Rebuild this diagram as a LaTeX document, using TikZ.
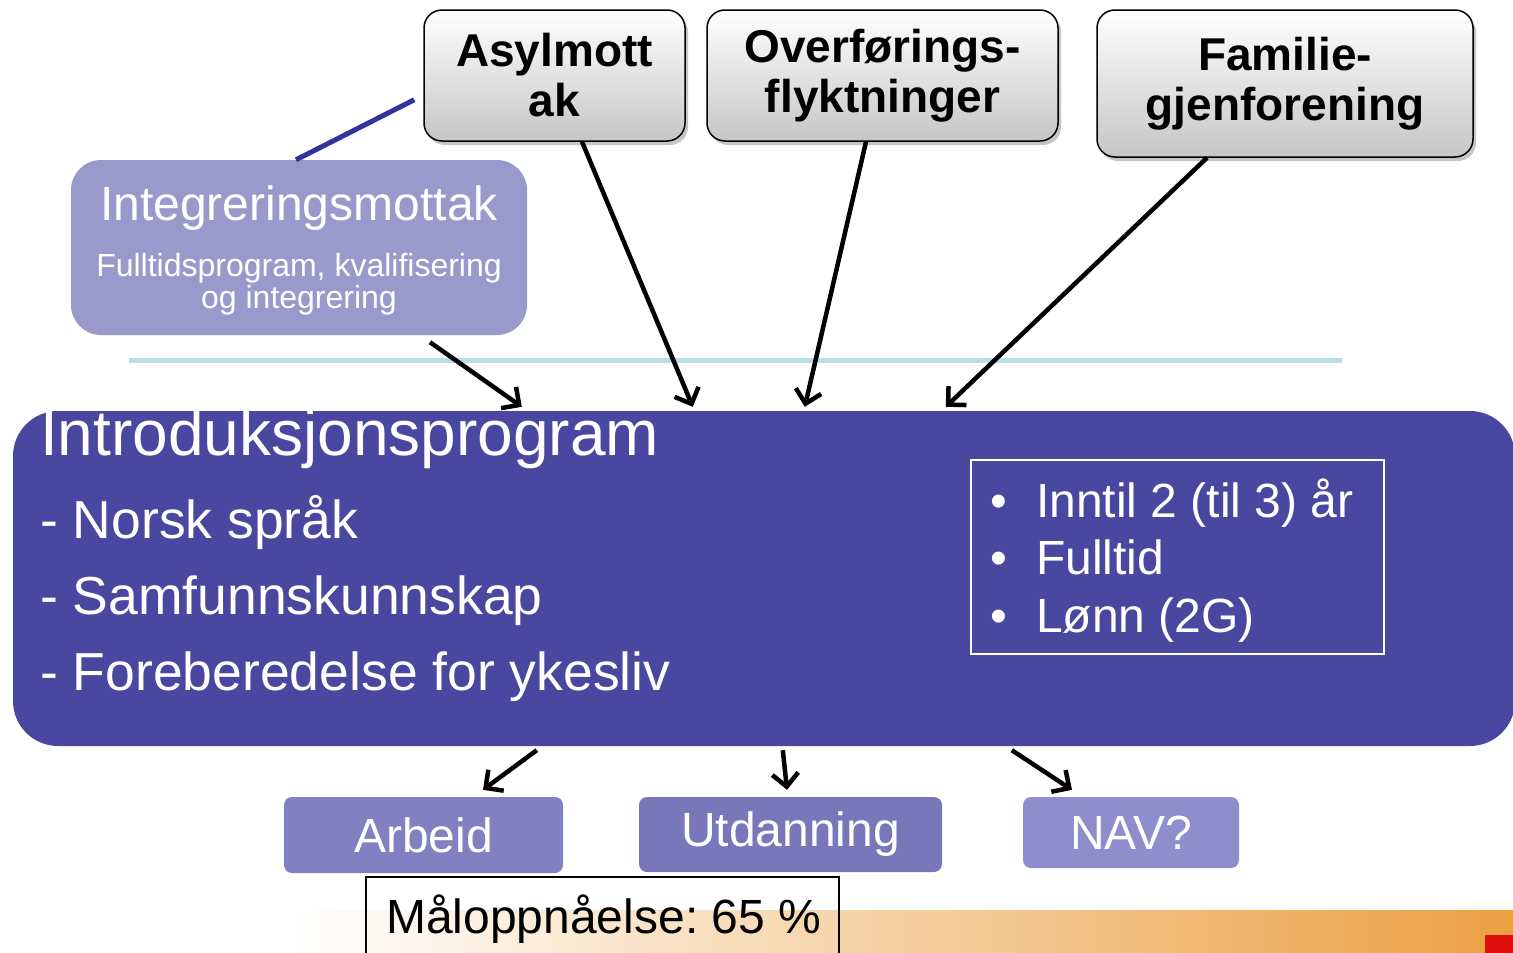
\documentclass[tikz,border=0pt]{standalone}
\usepackage{fontspec}
\setmainfont{Liberation Sans}
\usetikzlibrary{arrows.meta,shadows,calc}
\definecolor{introblue}{HTML}{4848A0}
\definecolor{integcol}{HTML}{9999CC}
\definecolor{arbcol}{HTML}{8181C1}
\definecolor{utdcol}{HTML}{7777BA}
\definecolor{navcol}{HTML}{8E8ECC}
\definecolor{cyanline}{HTML}{B7DEE1}
\definecolor{darkline}{HTML}{3333A0}
\definecolor{orangeband}{HTML}{EBA043}
\definecolor{redsq}{HTML}{E01010}
\frenchspacing
\begin{document}
\begin{tikzpicture}[x=1pt,y=-1pt,
  topbox/.style={draw=black, line width=1.5pt, rounded corners=18pt,
    top color=white, bottom color=gray!45,
    drop shadow={shadow xshift=3pt,shadow yshift=-4pt,opacity=0.45},
    font=\fontsize{46}{50}\selectfont\bfseries, align=center, inner sep=0pt},
  outbox/.style={rounded corners=8pt, inner sep=0pt, text=white,
    font=\fontsize{48}{50}\selectfont},
  whitetxt/.style={text=white, inner sep=0pt, anchor=base west},
  arr/.style={line width=4.5pt, -{Straight Barb[length=13pt,width=26pt]}},
]
\useasboundingbox (0,0) rectangle (1513,953);

% bottom orange band
\shade[left color=white, right color=orangeband] (290,910) rectangle (1513,953);
\fill[redsq] (1485,935) rectangle (1513,953);

% top source boxes
\node[topbox, minimum width=261pt, minimum height=131pt] (asyl) at (554.5,75.5) {Asylmott\\ak};
\node[topbox, minimum width=351pt, minimum height=131pt] (overf) at (882.5,75.5) {Overførings-\\flyktninger};
\node[topbox, minimum width=376pt, minimum height=147pt] (fam) at (1285,83.5) {Familie-\\gjenforening};

% integreringsmottak
\node[fill=integcol, rounded corners=30pt, minimum width=456pt, minimum height=175pt, inner sep=0pt] (integ) at (299,247.5) {};
\node[text=white, inner sep=0pt, anchor=base, font=\fontsize{48}{50}\selectfont] (integt) at (299,220) {Integreringsmottak};
\node[text=white, inner sep=0pt, anchor=base, font=\fontsize{32}{33}\selectfont] (integs1) at (299,276) {Fulltidsprogram, kvalifisering};
\node[text=white, inner sep=0pt, anchor=base, font=\fontsize{32}{33}\selectfont] (integs2) at (299,308) {og integrering};

\draw[darkline, line width=5pt] ($(asyl.south west)+(-9,-42)$) -- ($(integ.north)+(-3,0)$);

% cyan separator
\draw[cyanline, line width=5pt] (129,360) -- (1342,360);

% introduksjonsprogram
\node[fill=introblue, rounded corners=45pt, minimum width=1502pt, minimum height=335pt, inner sep=0pt] (intro) at (764,578.5) {};
\node[whitetxt, font=\fontsize{64}{66}\selectfont] (introt) at (40,455) {Introduksjonsprogram};
\node[whitetxt, font=\fontsize{53.5}{56}\selectfont] (i1) at (40,538) {- Norsk språk};
\node[whitetxt, font=\fontsize{53.5}{56}\selectfont] (i2) at (40,614) {- Samfunnskunnskap};
\node[whitetxt, font=\fontsize{53.5}{56}\selectfont] (i3) at (40,690) {- Foreberedelse for ykesliv};

\node[draw=white, line width=1.5pt, minimum width=413pt, minimum height=194pt, inner sep=0pt] (facts) at (1177.5,557) {};
\node[whitetxt, font=\fontsize{48}{50}\selectfont] (b1) at (990,517) {•};
\node[whitetxt, font=\fontsize{48}{50}\selectfont] (f1) at (1036,517) {Inntil 2 (til 3) år};
\node[whitetxt, font=\fontsize{48}{50}\selectfont] (b2) at (990,574) {•};
\node[whitetxt, font=\fontsize{48}{50}\selectfont] (f2) at (1036,574) {Fulltid};
\node[whitetxt, font=\fontsize{48}{50}\selectfont] (b3) at (990,632) {•};
\node[whitetxt, font=\fontsize{48}{50}\selectfont] (f3) at (1036,632) {Lønn (2G)};

% outcome boxes
\node[outbox, fill=arbcol, minimum width=279pt, minimum height=76pt] (arb) at (423.5,835) {Arbeid};
\node[outbox, fill=utdcol, minimum width=303pt, minimum height=75pt] (utd) at (790.5,834.5) {Utdanning};
\node[outbox, fill=navcol, minimum width=216pt, minimum height=71pt] (nav) at (1131,832.5) {NAV?};

% maloppnaelse
\draw[black, line width=2pt] (366,965) -- (366,877) -- (839,877) -- (839,965);
\node[inner sep=0pt, anchor=base west, font=\fontsize{48}{50}\selectfont] (malo) at (386,933) {Måloppnåelse: 65 \%};

% arrows in
\draw[arr] ($(integ.south)+(131,7)$) -- ($(intro.north west)+(509,-4)$);
\draw[arr] ($(asyl.south)+(27.5,0)$) -- ($(intro.north west)+(680,-4)$);
\draw[arr] ($(overf.south)+(-16.5,0)$) -- ($(intro.north west)+(792,-4)$);
\draw[arr] ($(fam.south)+(-78,0)$) -- ($(intro.north west)+(933,-4)$);

% arrows out
\draw[arr] ($(intro.south west)+(524,4)$) -- ($(arb.north)+(59.5,-7)$);
\draw[arr] ($(intro.south west)+(770,4)$) -- ($(utd.north)+(-3.5,-7)$);
\draw[arr] ($(intro.south west)+(999,4)$) -- ($(nav.north)+(-59,-7)$);
\end{tikzpicture}
\end{document}
